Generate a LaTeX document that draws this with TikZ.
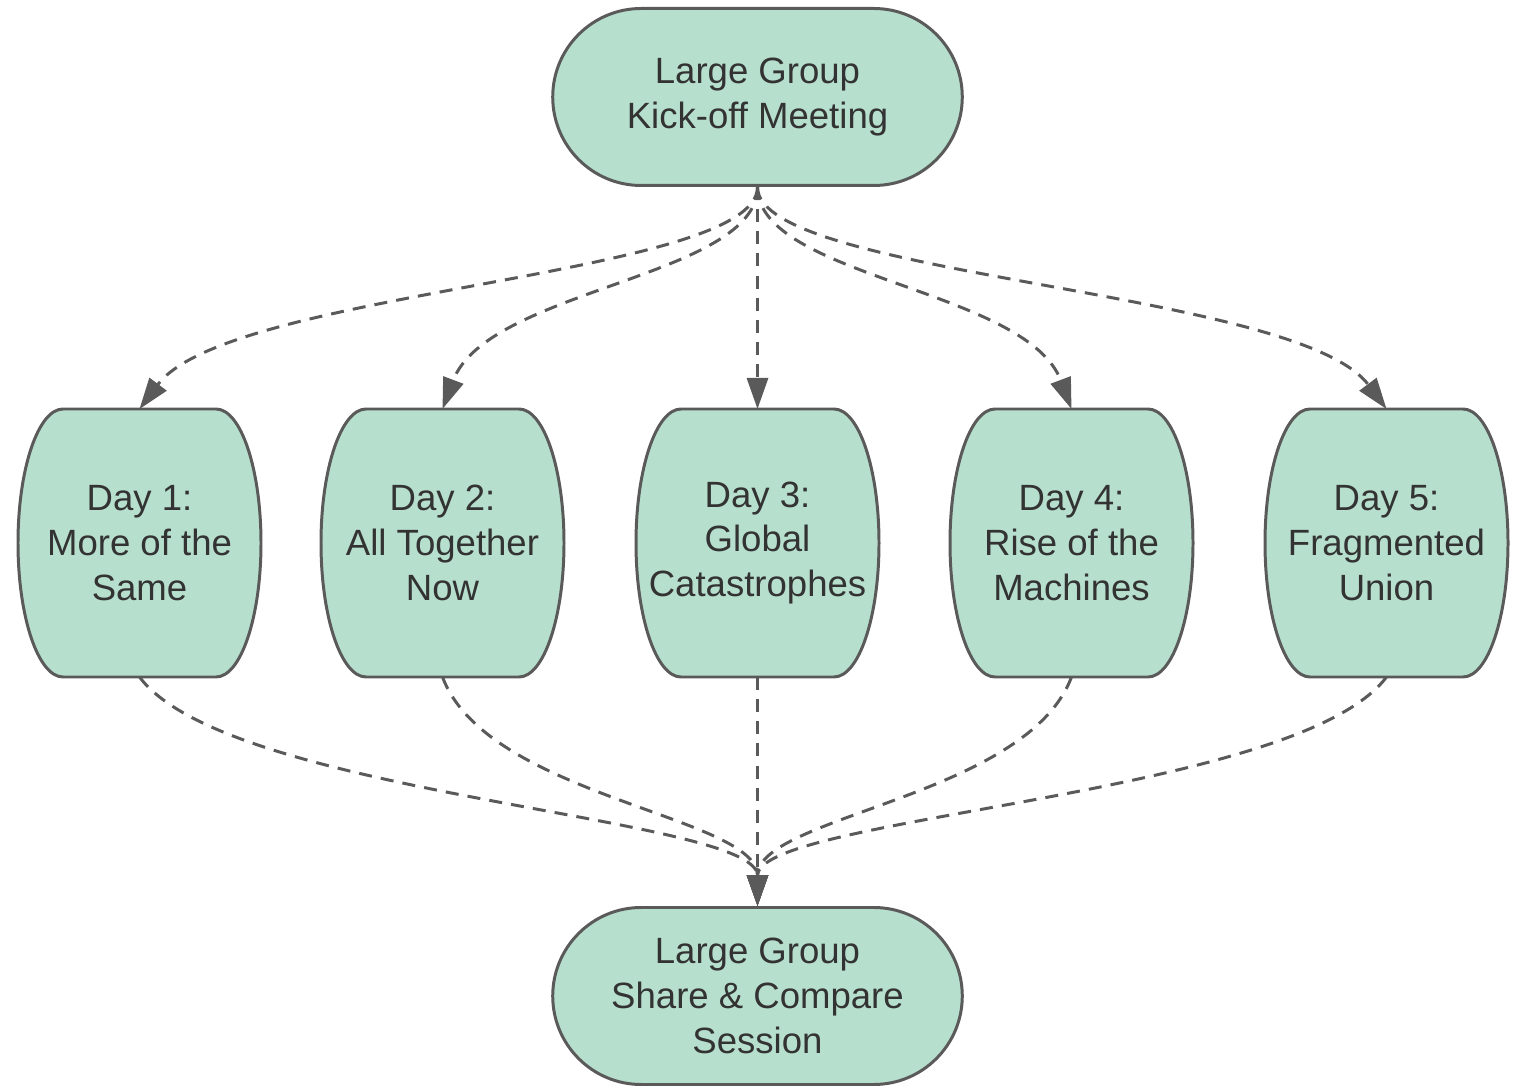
\documentclass[tikz,border=0pt]{standalone}
\usepackage{fontspec}
\setmainfont{Liberation Sans}
\usetikzlibrary{shapes.misc, arrows.meta}
\definecolor{mint}{HTML}{B7DFCE}
\definecolor{outline}{HTML}{5A5A5A}
\definecolor{ink}{HTML}{333333}

\begin{document}
\begin{tikzpicture}[
            session/.style={rounded rectangle, draw=outline, fill=mint, line width=0.85pt,
                minimum width=4.33cm, minimum height=1.77cm, align=center, text=ink,
                font=\fontsize{10.4}{12.7}\selectfont},
            day/.style={rectangle, minimum width=2.43cm, minimum height=2.68cm, inner sep=0pt,
                outer sep=0pt, align=center, text=ink, font=\fontsize{10.4}{12.7}\selectfont},
            barrel/.style={draw=outline, fill=mint, line width=0.85pt, line join=round},
            flow/.style={draw=outline, line width=0.85pt, dash pattern=on 3.7pt off 2.6pt,
                -{Triangle[length=0.31cm, width=0.21cm]}},
        ]
            \useasboundingbox (0,0) rectangle (15.21,10.85);
            \node[session] (kickoff) at (7.575,9.88) {Large Group\\Kick-off Meeting};
            \node[session] (share) at (7.575,0.89) {Large Group\\Share \& Compare\\Session};
            \foreach \n/\x/\txt in {
                    1/1.395/{Day 1:\\More of the\\Same},
                    2/4.425/{Day 2:\\All Together\\Now},
                    3/7.575/{Day 3:\\Global\\Catastrophes},
                    4/10.715/{Day 4:\\Rise of the\\Machines},
                    5/13.865/{Day 5:\\Fragmented\\Union}} {
                \draw[barrel] (\x-0.765,6.76) -- ++(1.53,0)
                    arc[start angle=90, end angle=-90, x radius=0.45cm, y radius=1.34cm] -- ++(-1.53,0)
                    arc[start angle=270, end angle=90, x radius=0.45cm, y radius=1.34cm] -- cycle;
                \node[day] (day\n) at (\x,5.42) {\txt};
            }
            \foreach \n/\dx in {1/0.9, 2/0.45, 4/-0.45, 5/-0.9} {
                \draw[flow] (kickoff.south) .. controls +(0,-0.9) and +(\dx,1.2) .. (day\n.north);
                \draw[flow] (day\n.south) .. controls +(\dx,-1.2) and +(0,0.9) .. (share.north);
            }
            \draw[flow] (kickoff.south) -- (day3.north);
            \draw[flow] (day3.south) -- (share.north);
        \end{tikzpicture}
\end{document}
